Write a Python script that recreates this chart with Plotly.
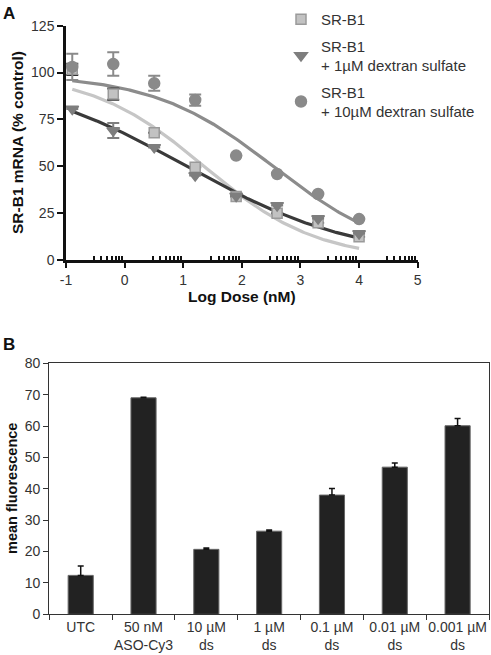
import numpy as np
import plotly.graph_objects as go

# ---------------- Panel A data ----------------
log_dose = [-0.893, -0.194, 0.505, 1.204, 1.903, 2.602, 3.301, 4.0]

srb1 = [101.7, 88.5, 67.8, 49.4, 33.7, 24.8, 19.8, 12.3]
srb1_err = [3.0, 3.0, 0, 0, 0, 0, 0, 0]

srb1_ds1 = [80.5, 69.0, 60.0, 45.0, 34.0, 29.0, 22.0, 14.0]
srb1_ds1_err = [0, 4.0, 0, 0, 0, 0, 0, 0]

srb1_ds10 = [103.0, 104.5, 94.2, 85.3, 55.6, 45.8, 35.1, 21.7]
srb1_ds10_err = [7.0, 6.3, 4.0, 3.0, 0, 0, 0, 0]

# fitted 4-parameter logistic curves: [top, bottom, logIC50, hill]
fit_srb1 = [100.0, 0.0, 1.35, 0.45]
fit_ds1 = [100.0, 0.0, 1.05, 0.30]
fit_ds10 = [99.0, 0.0, 2.55, 0.42]

names = ["SR-B1", "SR-B1<br>+ 1µM dextran sulfate", "SR-B1<br>+ 10µM dextran sulfate"]

x_ticks = [-1, 0, 1, 2, 3, 4, 5]
x_ticktext = ["-1", "0", "1", "2", "3", "4", "5"]
y_ticks_a = [0, 25, 50, 75, 100, 125]

# ---------------- Panel B data ----------------
categories = ["UTC", "50 nM<br>ASO-Cy3", "10 µM<br>ds", "1 µM<br>ds",
              "0.1 µM<br>ds", "0.01 µM<br>ds", "0.001 µM<br>ds"]
fluor = [12.4, 69.0, 20.7, 26.5, 38.0, 46.9, 60.1]
fluor_err = [3.0, 0.2, 0.4, 0.4, 2.1, 1.3, 2.3]
y_ticks_b = [0, 10, 20, 30, 40, 50, 60, 70, 80]

FONT = "Liberation Sans, Arial, sans-serif"
W, H = 491, 655


def fourpl(x, p):
    top, bottom, logic50, hill = p
    return bottom + (top - bottom) / (1 + 10 ** ((x - logic50) * hill))


fig = go.Figure()

xc = np.linspace(log_dose[0], log_dose[-1], 200)
curve_styles = [(fit_srb1, "#c6c6c6"), (fit_ds1, "#3a3a3a"), (fit_ds10, "#8c8c8c")]
for p, col in curve_styles:
    fig.add_trace(go.Scatter(x=xc, y=fourpl(xc, p), mode="lines",
                             line=dict(color=col, width=3.2), showlegend=False,
                             hoverinfo="skip", xaxis="x", yaxis="y"))

series = [
    (srb1, srb1_err, names[0], "square", "#c2c2c2", "#9a9a9a", "#333333", 10),
    (srb1_ds1, srb1_ds1_err, names[1], "triangle-down", "#7e7e7e", "#7e7e7e", "#7e7e7e", 11),
    (srb1_ds10, srb1_ds10_err, names[2], "circle", "#8a8a8a", "#8a8a8a", "#8a8a8a", 11),
]
for i, (vals, err, nm, sym, fill, edge, ecol, sz) in enumerate(series):
    fig.add_trace(go.Scatter(
        x=log_dose, y=vals, mode="markers", name=nm, legendgroup=f"g{i}",
        marker=dict(symbol=sym, size=sz, color=fill, line=dict(color=edge, width=1.5)),
        error_y=dict(type="data", array=err, visible=True, color=ecol, thickness=2, width=6),
        xaxis="x", yaxis="y"))

# Panel B bars
fig.add_trace(go.Bar(
    x=categories, y=fluor, width=0.4,
    marker=dict(color="#222222", line=dict(color="#666666", width=1)),
    error_y=dict(type="data", array=fluor_err, arrayminus=[0] * len(fluor_err),
                 symmetric=False, visible=True, color="#111111", thickness=1.5, width=3),
    showlegend=False, xaxis="x2", yaxis="y2"))

minor_vals = [k + np.log10(m) for k in range(-1, 5) for m in range(3, 10)]

fig.update_layout(
    width=W, height=H,
    margin=dict(l=0, r=0, t=0, b=0, autoexpand=False),
    paper_bgcolor="white", plot_bgcolor="white",
    font=dict(family=FONT, color="#222222"),
    showlegend=True,
    legend=dict(x=281 / W, y=1 - 3 / H, xanchor="left", yanchor="top",
                font=dict(size=15, family=FONT, color="#333333"),
                bgcolor="rgba(0,0,0,0)", itemsizing="trace", tracegroupgap=4),
    xaxis=dict(domain=[66 / W, 417.7 / W], range=[-1, 5], anchor="y", automargin=False,
               tickmode="array", tickvals=x_ticks, ticktext=x_ticktext,
               ticks="outside", ticklen=6, tickwidth=2, tickcolor="#111",
               showline=True, linewidth=2.5, linecolor="#111",
               showgrid=False, zeroline=False,
               tickfont=dict(size=14, color="#333"),
               minor=dict(tickmode="array", tickvals=minor_vals, ticks="inside",
                          ticklen=4, tickwidth=2, tickcolor="#111", showgrid=False),
               title=dict(text="<b>Log Dose (nM)</b>", font=dict(size=15.5, color="#111"),
                          standoff=4)),
    yaxis=dict(domain=[1 - 259.7 / H, 1 - 25.7 / H], range=[0, 125], anchor="x", automargin=False,
               tickmode="array", tickvals=y_ticks_a,
               ticks="outside", ticklen=6, tickwidth=2, tickcolor="#111",
               showline=True, linewidth=2.5, linecolor="#111",
               showgrid=False, zeroline=False,
               tickfont=dict(size=14, color="#333")),
    xaxis2=dict(domain=[49.3 / W, 489 / W], range=[-0.5, 6.5], anchor="y2", automargin=False,
                type="category", tickson="boundaries", ticks="outside", ticklen=5,
                tickwidth=1, tickcolor="#333", tickangle=0,
                showline=True, linewidth=1.3, linecolor="#333", mirror=True,
                showgrid=False, zeroline=False,
                tickfont=dict(size=14, color="#333")),
    yaxis2=dict(domain=[1 - 614.3 / H, 1 - 363.3 / H], range=[0, 80], anchor="x2", automargin=False,
                tickmode="array", tickvals=y_ticks_b,
                ticks="outside", ticklen=5, tickwidth=1, tickcolor="#333",
                showline=True, linewidth=1.3, linecolor="#333", mirror=True,
                showgrid=False, zeroline=False,
                tickfont=dict(size=14, color="#333")),
    annotations=[
        dict(text="<b>A</b>", x=9 / W, y=1 - 14 / H, xref="paper", yref="paper",
             xanchor="center", yanchor="middle",
             showarrow=False, font=dict(size=17, color="#111", family=FONT)),
        dict(text="<b>B</b>", x=9 / W, y=1 - 344 / H, xref="paper", yref="paper",
             xanchor="center", yanchor="middle",
             showarrow=False, font=dict(size=17, color="#111", family=FONT)),
        dict(text="<b>SR-B1 mRNA (% control)</b>", textangle=-90,
             x=17 / W, y=1 - 143 / H, xref="paper", yref="paper",
             xanchor="center", yanchor="middle",
             showarrow=False, font=dict(size=15.5, color="#111", family=FONT)),
        dict(text="<b>mean fluorescence</b>", textangle=-90,
             x=12 / W, y=1 - 489 / H, xref="paper", yref="paper",
             xanchor="center", yanchor="middle",
             showarrow=False, font=dict(size=14.5, color="#111", family=FONT)),
    ],
)

fig.write_html("out.html", config={"displayModeBar": False},
               post_script="document.body.style.margin='0';document.body.style.overflow='hidden';")
